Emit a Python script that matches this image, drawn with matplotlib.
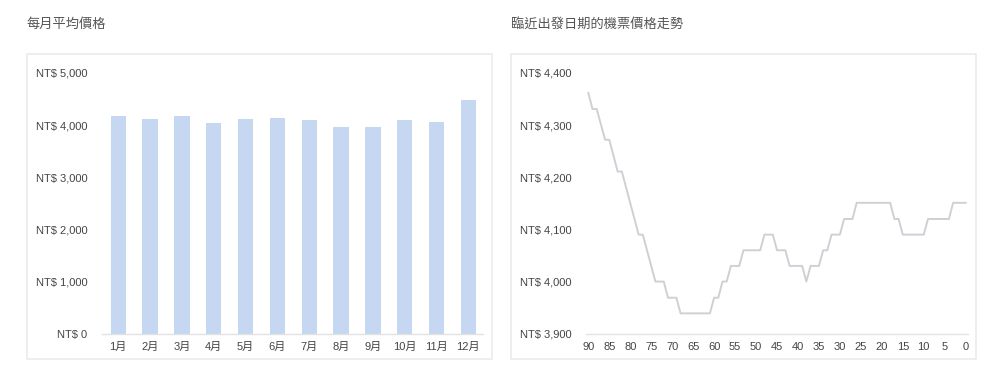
import matplotlib
matplotlib.use("Agg")
import matplotlib.pyplot as plt
from matplotlib.patches import Rectangle
from matplotlib.ticker import FuncFormatter

# ---- data ----
months = ["1月", "2月", "3月", "4月", "5月", "6月", "7月", "8月", "9月", "10月", "11月", "12月"]
month_avg = [4175, 4124, 4175, 4035, 4124, 4143, 4092, 3964, 3958, 4092, 4054, 4482]

days_before = [90, 89, 88, 86, 85, 83, 82, 78, 77, 74, 72, 71, 69, 68, 61, 60, 59, 58, 57,
               56, 54, 53, 49, 48, 46, 45, 43, 42, 39, 38, 37, 35, 34, 33, 32, 30, 29, 27,
               26, 18, 17, 16, 15, 10, 9, 4, 3, 0]
trend_price = [4362, 4331, 4331, 4272, 4272, 4211, 4211, 4090, 4090, 4000, 4000, 3969, 3969,
               3939, 3939, 3969, 3969, 4000, 4000, 4030, 4030, 4060, 4060, 4090, 4090, 4060,
               4060, 4030, 4030, 4000, 4030, 4030, 4060, 4060, 4090, 4090, 4120, 4120, 4151,
               4151, 4120, 4120, 4090, 4090, 4120, 4120, 4151, 4151]

left_yticks = [0, 1000, 2000, 3000, 4000, 5000]
right_yticks = [3900, 4000, 4100, 4200, 4300, 4400]
right_xticks = list(range(90, -1, -5))

titles = ["每月平均價格", "臨近出發日期的機票價格走勢"]

# ---- style ----
FONT = ["Liberation Sans", "Noto Sans CJK TC", "DejaVu Sans"]
plt.rcParams["font.family"] = FONT
TICK_COLOR = "#444444"
TITLE_COLOR = "#555555"
BAR_COLOR = "#c6d8f1"
LINE_COLOR = "#cdd1d5"
BASE_COLOR = "#e2e2e2"

W, H = 1000, 382
fig = plt.figure(figsize=(W / 100, H / 100), dpi=100)
fig.patch.set_facecolor("white")


def fx(px):
    return px / W


def fy(py):
    return 1 - py / H


# panel boxes
for x0, x1 in [(26.5, 491.5), (511.5, 976)]:
    r = Rectangle((fx(x0), fy(359)), fx(x1 - x0), (359 - 54) / H,
                  transform=fig.transFigure, facecolor="none",
                  edgecolor="#ebebeb", linewidth=1.2)
    r.set_zorder(-10)
    fig.add_artist(r)

# titles
fig.text(fx(26.5), fy(25), titles[0], fontsize=9.5, color=TITLE_COLOR, va="center", ha="left")
fig.text(fx(511.5), fy(25), titles[1], fontsize=9.5, color=TITLE_COLOR, va="center", ha="left")

bottom = fy(333.7)
height = fy(73) - bottom

fmt = FuncFormatter(lambda v, p: "NT$ {:,.0f}".format(v))

# ---- left: monthly bars ----
ax1 = fig.add_axes([fx(101.7), bottom, fx(483.3 - 101.7), height])
ax1.set_facecolor("none")
xs = list(range(len(months)))
ax1.bar(xs, month_avg, width=0.48, color=BAR_COLOR, zorder=2)
ax1.set_xlim(-0.52, 11.47)
ax1.set_ylim(0, 5000)
ax1.set_xticks(xs)
ax1.set_xticklabels(months)
ax1.set_yticks(left_yticks)
ax1.yaxis.set_major_formatter(fmt)

# ---- right: trend line ----
ax2 = fig.add_axes([fx(586), bottom, fx(968.3 - 586), height])
ax2.set_facecolor("none")
ax2.plot(days_before, trend_price, color=LINE_COLOR, linewidth=1.4, solid_joinstyle="round", zorder=2)
ax2.set_xlim(90.55, -0.62)
ax2.set_ylim(3900, 4400)
ax2.set_xticks(right_xticks)
ax2.set_yticks(right_yticks)
ax2.yaxis.set_major_formatter(fmt)

for ax in (ax1, ax2):
    for s in ("top", "right", "left"):
        ax.spines[s].set_visible(False)
    ax.spines["bottom"].set_color(BASE_COLOR)
    ax.spines["bottom"].set_linewidth(1.0)
    ax.tick_params(axis="both", length=0, labelsize=8, labelcolor=TICK_COLOR)
    ax.tick_params(axis="y", pad=10.3)
    ax.tick_params(axis="x", pad=6)

fig.savefig("out.png", dpi=100, facecolor="white")
